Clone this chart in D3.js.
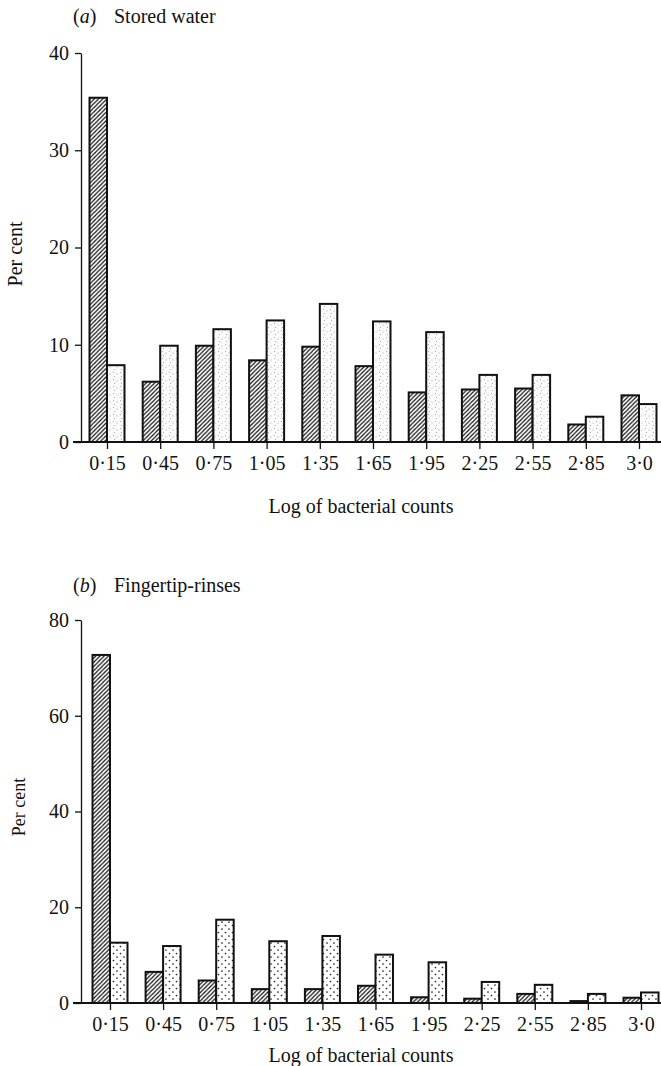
<!DOCTYPE html>
<html>
<head>
<meta charset="utf-8">
<script src="https://cdn.jsdelivr.net/npm/d3@7"></script>
<style>
  body { margin: 0; background: #fff; }
  svg text { font-family: "Liberation Serif", "DejaVu Serif", serif; fill: #111; }
</style>
</head>
<body>
<div id="chart"></div>
<script>
// categories (log of bacterial counts)
var categories = ["0·15", "0·45", "0·75", "1·05", "1·35", "1·65", "1·95", "2·25", "2·55", "2·85", "3·0"];

// (a) Stored water
var storedHatched = [35.4, 6.2, 9.9, 8.4, 9.8, 7.8, 5.1, 5.4, 5.5, 1.8, 4.8];
var storedDotted  = [7.9, 9.9, 11.6, 12.5, 14.2, 12.4, 11.3, 6.9, 6.9, 2.6, 3.9];
var storedTicks = [0, 10, 20, 30, 40];

// (b) Fingertip-rinses
var rinseHatched = [72.7, 6.5, 4.7, 2.9, 2.9, 3.6, 1.2, 0.9, 1.9, 0.4, 1.1];
var rinseDotted  = [12.6, 11.9, 17.4, 12.9, 14.0, 10.1, 8.5, 4.4, 3.8, 1.9, 2.2];
var rinseTicks = [0, 20, 40, 60, 80];

const W = 661, H = 1066;

const svg = d3.select("#chart")
  .append("svg")
    .attr("width", W)
    .attr("height", H);

// patterns
const defs = svg.append("defs");
var hatch = defs.append("pattern")
  .attr("id", "hatch")
  .attr("patternUnits", "userSpaceOnUse")
  .attr("width", 4.2).attr("height", 4.2);
hatch.append("rect").attr("width", 4.2).attr("height", 4.2).attr("fill", "#fff");
hatch.append("path")
  .attr("d", "M-1,1 l2,-2 M0,4.2 l4.2,-4.2 M3.2,5.2 l2,-2")
  .attr("stroke", "#111").attr("stroke-width", 1.2);

// light stipple for panel a
var stipA = defs.append("pattern")
  .attr("id", "stipA")
  .attr("patternUnits", "userSpaceOnUse")
  .attr("width", 7).attr("height", 7);
stipA.append("rect").attr("width", 7).attr("height", 7).attr("fill", "#fbfbfb");
[[1,1],[4.5,2.5],[2,5]].forEach(function(p){
  stipA.append("rect").attr("x", p[0]).attr("y", p[1]).attr("width", 1).attr("height", 1).attr("fill", "#aaa");
});

// coarser dots for panel b
var stipB = defs.append("pattern")
  .attr("id", "stipB")
  .attr("patternUnits", "userSpaceOnUse")
  .attr("width", 7).attr("height", 7);
stipB.append("rect").attr("width", 7).attr("height", 7).attr("fill", "#fff");
[[1.5,1.5],[5,5]].forEach(function(p){
  stipB.append("circle").attr("cx", p[0]).attr("cy", p[1]).attr("r", 0.85).attr("fill", "#222");
});

function draw_panel(opt){
  const g = svg.append("g");

  const x = d3.scalePoint()
    .domain(categories)
    .range([opt.x0, opt.x1]);

  const y = d3.scaleLinear()
    .domain([0, opt.ymax])
    .range([opt.yBottom, opt.yTop]);

  const bw = 17.5;

  // bars
  g.selectAll("rect.hb")
    .data(opt.hatched)
    .join("rect")
      .attr("class", "hb")
      .attr("x", (d, i) => x(categories[i]) - bw)
      .attr("y", d => y(d))
      .attr("width", bw)
      .attr("height", d => y(0) - y(d))
      .attr("fill", "url(#hatch)")
      .attr("stroke", "#111")
      .attr("stroke-width", 2);

  g.selectAll("rect.db")
    .data(opt.dotted)
    .join("rect")
      .attr("class", "db")
      .attr("x", (d, i) => x(categories[i]))
      .attr("y", d => y(d))
      .attr("width", bw)
      .attr("height", d => y(0) - y(d))
      .attr("fill", opt.dots)
      .attr("stroke", "#111")
      .attr("stroke-width", 2);

  // y axis
  const ya = g.append("g")
    .attr("transform", `translate(${opt.axisX},0)`)
    .call(d3.axisLeft(y).tickValues(opt.ticks).tickSize(6).tickSizeOuter(0).tickPadding(6));
  ya.select(".domain").attr("stroke", "#111").attr("stroke-width", 1.3);
  ya.selectAll(".tick line").attr("stroke", "#111").attr("stroke-width", 1.3);
  ya.selectAll(".tick text").attr("font-size", 20).attr("font-family", "Liberation Serif").attr("fill", "#111");

  // x axis
  const xa = g.append("g")
    .attr("transform", `translate(0,${opt.yBottom})`)
    .call(d3.axisBottom(x).tickSize(7).tickSizeOuter(0).tickPadding(0));
  xa.select(".domain")
    .attr("d", `M${opt.axisX - 8},0H${W}`)
    .attr("stroke", "#111").attr("stroke-width", 2);
  xa.selectAll(".tick line").attr("stroke", "#111").attr("stroke-width", 1.3);
  xa.selectAll(".tick text")
    .attr("font-size", 20).attr("font-family", "Liberation Serif").attr("fill", "#111")
    .attr("dy", null).attr("y", 28);

  // labels
  g.append("text")
    .attr("x", 361).attr("y", opt.yBottom + opt.xlabOff)
    .attr("text-anchor", "middle")
    .attr("font-size", 20)
    .text("Log of bacterial counts");

  g.append("text")
    .attr("transform", `translate(${opt.ylabX},${opt.ylabY}) rotate(-90)`)
    .attr("text-anchor", "middle")
    .attr("font-size", opt.ylabSize)
    .text("Per cent");

  const t = g.append("text")
    .attr("x", opt.titleX).attr("y", opt.titleY)
    .attr("font-size", 20);
  t.append("tspan").text("(");
  t.append("tspan").attr("font-style", "italic").text(opt.letter);
  t.append("tspan").text(")");
  g.append("text")
    .attr("x", opt.titleX + 41).attr("y", opt.titleY)
    .attr("font-size", 20)
    .text(opt.title);
}

draw_panel({
  hatched: storedHatched, dotted: storedDotted, ticks: storedTicks, ymax: 40,
  x0: 107, x1: 639, yBottom: 442, yTop: 53, axisX: 81,
  dots: "url(#stipA)", letter: "a", title: "Stored water",
  titleX: 73, titleY: 23, ylabX: 22, ylabY: 254, ylabSize: 20, xlabOff: 71
});

draw_panel({
  hatched: rinseHatched, dotted: rinseDotted, ticks: rinseTicks, ymax: 80,
  x0: 110, x1: 641, yBottom: 1003, yTop: 620, axisX: 81,
  dots: "url(#stipB)", letter: "b", title: "Fingertip-rinses",
  titleX: 73, titleY: 592, ylabX: 25, ylabY: 807, ylabSize: 18, xlabOff: 59
});
</script>
</body>
</html>
